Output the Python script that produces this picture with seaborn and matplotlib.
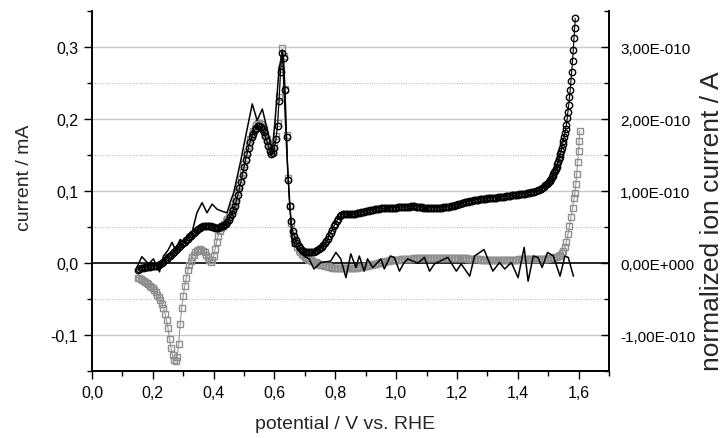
import numpy as np
import pandas as pd
import matplotlib
matplotlib.use("Agg")
import matplotlib.pyplot as plt
from matplotlib.ticker import MultipleLocator, FuncFormatter
import seaborn as sns

# ---------------- data ----------------
# The potential sweep is sampled on a regular 5 mV grid (0.150 ... 1.500 V),
# plus the densely sampled steep tail read point by point.
sweep_grid_a = np.round(np.arange(0.150, 1.5001, 0.005), 4)
sweep_grid_b = np.round(np.arange(0.150, 1.5351, 0.005), 4)

# black open circles: current, left axis (mA), one value per grid potential
current_a_grid = [
    -0.009, -0.008, -0.007, -0.0065, -0.006, -0.0055, -0.005, -0.005, -0.005, -0.0045,
    -0.004, -0.004, -0.004, -0.0035, -0.003, -0.0015, 0.000, 0.002, 0.004, 0.006,
    0.008, 0.010, 0.012, 0.014, 0.016, 0.018, 0.020, 0.022, 0.024, 0.026,
    0.028, 0.030, 0.032, 0.034, 0.036, 0.038, 0.040, 0.042, 0.044, 0.0455,
    0.047, 0.0485, 0.050, 0.051, 0.052, 0.052, 0.052, 0.0515, 0.051, 0.0505,
    0.050, 0.0495, 0.049, 0.0495, 0.050, 0.051, 0.052, 0.0535, 0.055, 0.057,
    0.060, 0.064, 0.068, 0.074, 0.080, 0.087, 0.095, 0.104, 0.113, 0.123,
    0.133, 0.143, 0.152, 0.160, 0.168, 0.175, 0.180, 0.185, 0.188, 0.190,
    0.190, 0.189, 0.186, 0.182, 0.176, 0.169, 0.162, 0.156, 0.152, 0.153,
    0.160, 0.172, 0.190, 0.225, 0.265, 0.292, 0.285, 0.240, 0.175, 0.115,
    0.080, 0.058, 0.045, 0.038, 0.032, 0.028, 0.024, 0.021, 0.019, 0.017,
    0.016, 0.015, 0.015, 0.015, 0.015, 0.0155, 0.016, 0.017, 0.018, 0.0195,
    0.021, 0.023, 0.025, 0.028, 0.031, 0.034, 0.038, 0.042, 0.046, 0.051,
    0.055, 0.059, 0.062, 0.065, 0.067, 0.068, 0.068, 0.068, 0.068, 0.068,
    0.068, 0.068, 0.068, 0.0685, 0.069, 0.0695, 0.070, 0.0705, 0.071, 0.0715,
    0.072, 0.0725, 0.073, 0.0735, 0.074, 0.0745, 0.075, 0.075, 0.075, 0.0755,
    0.076, 0.076, 0.076, 0.076, 0.076, 0.0765, 0.077, 0.077, 0.077, 0.077,
    0.077, 0.0775, 0.078, 0.078, 0.078, 0.078, 0.078, 0.078, 0.078, 0.0785,
    0.079, 0.079, 0.079, 0.0785, 0.078, 0.078, 0.078, 0.0775, 0.077, 0.077,
    0.077, 0.077, 0.077, 0.077, 0.077, 0.077, 0.077, 0.077, 0.077, 0.077,
    0.077, 0.0775, 0.078, 0.078, 0.078, 0.0785, 0.079, 0.0795, 0.080, 0.0805,
    0.081, 0.0815, 0.082, 0.083, 0.084, 0.0845, 0.085, 0.0855, 0.086, 0.0865,
    0.087, 0.0875, 0.088, 0.088, 0.088, 0.0885, 0.089, 0.089, 0.089, 0.0895,
    0.090, 0.090, 0.090, 0.0905, 0.091, 0.091, 0.091, 0.0915, 0.092, 0.092,
    0.092, 0.0925, 0.093, 0.093, 0.093, 0.0935, 0.094, 0.094, 0.094, 0.0945,
    0.095, 0.0955, 0.096, 0.096, 0.096, 0.0965, 0.097, 0.0975, 0.098, 0.0985,
    0.099, 0.0995, 0.100, 0.101, 0.102, 0.103, 0.104, 0.106, 0.108, 0.1095,
    0.111]
tail_potential_a = [1.5025, 1.505, 1.5075, 1.51, 1.5125, 1.515, 1.5175, 1.52, 1.5225, 1.525,
                    1.5275, 1.53, 1.5325, 1.535, 1.5375, 1.54, 1.5425, 1.545, 1.5475, 1.55,
                    1.5525, 1.555, 1.5575, 1.56, 1.5625, 1.565, 1.5675, 1.57, 1.5725, 1.575,
                    1.5775, 1.58, 1.5825, 1.585, 1.587, 1.589]
tail_current_a = [0.1125, 0.114, 0.1155, 0.117, 0.119, 0.121, 0.1235, 0.126, 0.1285, 0.131,
                  0.134, 0.137, 0.1405, 0.144, 0.1475, 0.151, 0.1555, 0.160, 0.165, 0.170,
                  0.1755, 0.181, 0.1865, 0.192, 0.201, 0.210, 0.220, 0.230, 0.241, 0.253,
                  0.266, 0.280, 0.296, 0.312, 0.326, 0.340]

# grey open squares: current, left axis (mA), one value per grid potential
current_b_grid = [
    -0.020, -0.021, -0.022, -0.0235, -0.025, -0.0265, -0.028, -0.0295, -0.031, -0.033,
    -0.035, -0.0375, -0.040, -0.0435, -0.047, -0.051, -0.056, -0.062, -0.070, -0.079,
    -0.090, -0.105, -0.118, -0.128, -0.134, -0.136, -0.130, -0.112, -0.085, -0.062,
    -0.045, -0.032, -0.020, -0.010, -0.002, 0.003, 0.008, 0.012, 0.015, 0.017,
    0.019, 0.0195, 0.019, 0.017, 0.015, 0.012, 0.008, 0.004, 0.002, 0.004,
    0.010, 0.020, 0.030, 0.038, 0.045, 0.049, 0.052, 0.055, 0.058, 0.061,
    0.064, 0.068, 0.072, 0.078, 0.084, 0.091, 0.099, 0.108, 0.117, 0.127,
    0.137, 0.146, 0.155, 0.164, 0.172, 0.178, 0.184, 0.188, 0.192, 0.194,
    0.194, 0.193, 0.190, 0.186, 0.180, 0.173, 0.165, 0.159, 0.155, 0.156,
    0.163, 0.176, 0.195, 0.230, 0.270, 0.298, 0.288, 0.242, 0.178, 0.118,
    0.080, 0.056, 0.042, 0.034, 0.028, 0.023, 0.019, 0.016, 0.013, 0.011,
    0.009, 0.0075, 0.006, 0.005, 0.004, 0.003, 0.002, 0.001, 0.000, -0.001,
    -0.002, -0.0025, -0.003, -0.0035, -0.004, -0.0045, -0.005, -0.0055, -0.006, -0.006,
    -0.006, -0.0065, -0.007, -0.007, -0.007, -0.007, -0.007, -0.007, -0.007, -0.007,
    -0.007, -0.0065, -0.006, -0.006, -0.006, -0.0055, -0.005, -0.005, -0.005, -0.0045,
    -0.004, -0.0035, -0.003, -0.0025, -0.002, -0.0015, -0.001, -0.0005, 0.000, 0.0005,
    0.001, 0.0015, 0.002, 0.0025, 0.003, 0.0035, 0.004, 0.004, 0.004, 0.0045,
    0.005, 0.005, 0.005, 0.0055, 0.006, 0.006, 0.006, 0.006, 0.006, 0.006,
    0.006, 0.0065, 0.007, 0.007, 0.007, 0.007, 0.007, 0.007, 0.007, 0.007,
    0.007, 0.007, 0.007, 0.007, 0.007, 0.007, 0.007, 0.007, 0.007, 0.007,
    0.007, 0.007, 0.007, 0.007, 0.007, 0.007, 0.007, 0.007, 0.007, 0.007,
    0.007, 0.007, 0.007, 0.007, 0.007, 0.007, 0.007, 0.0065, 0.006, 0.006,
    0.006, 0.006, 0.006, 0.006, 0.006, 0.0055, 0.005, 0.005, 0.005, 0.0045,
    0.004, 0.004, 0.004, 0.004, 0.004, 0.004, 0.004, 0.004, 0.004, 0.004,
    0.004, 0.0045, 0.005, 0.005, 0.005, 0.005, 0.005, 0.005, 0.005, 0.005,
    0.005, 0.0055, 0.006, 0.006, 0.006, 0.006, 0.006, 0.006, 0.006, 0.006,
    0.006, 0.006, 0.006, 0.006, 0.006, 0.006, 0.006, 0.006, 0.006, 0.006,
    0.007, 0.007, 0.007, 0.0075, 0.008, 0.0085, 0.009, 0.0105]
tail_potential_b = [1.54, 1.545, 1.55, 1.555, 1.56, 1.565, 1.57, 1.575, 1.58, 1.585,
                    1.588, 1.591, 1.594, 1.597, 1.600, 1.602, 1.604]
tail_current_b = [0.012, 0.014, 0.017, 0.022, 0.030, 0.040, 0.052, 0.064, 0.076, 0.090,
                  0.098, 0.110, 0.124, 0.140, 0.156, 0.170, 0.184]

# thin black line: normalized ion current, right axis (units of 1E-010 A)
potential_ion = [0.147, 0.164, 0.186, 0.202, 0.222, 0.235, 0.250, 0.263, 0.274, 0.290,
                 0.301, 0.315, 0.329, 0.345, 0.362, 0.378, 0.395, 0.411, 0.428, 0.444,
                 0.455, 0.466, 0.488, 0.510, 0.527, 0.543, 0.560, 0.576, 0.593, 0.604,
                 0.615, 0.626, 0.642, 0.659, 0.675, 0.697, 0.714, 0.730, 0.752, 0.770,
                 0.785, 0.802, 0.818, 0.835, 0.851, 0.868, 0.879, 0.895, 0.906, 0.923,
                 0.937, 0.950, 0.961, 0.981, 0.994, 1.011, 1.025, 1.038, 1.055, 1.071,
                 1.093, 1.110, 1.126, 1.145, 1.170, 1.198, 1.214, 1.242, 1.258, 1.289,
                 1.318, 1.340, 1.357, 1.379, 1.401, 1.421, 1.434, 1.451, 1.467, 1.480,
                 1.498, 1.517, 1.539, 1.555, 1.566, 1.583]
ion_current_e10 = [-0.06, 0.09, -0.01, 0.06, -0.12, 0.10, 0.18, 0.29, 0.19, 0.33,
                   0.29, 0.40, 0.43, 0.70, 0.84, 0.70, 0.82, 0.75, 0.72, 0.70,
                   0.85, 0.98, 1.40, 1.86, 2.21, 1.98, 2.14, 1.86, 1.54, 2.09,
                   2.69, 2.95, 1.40, 0.24, 0.22, 0.10, 0.06, -0.08, 0.01, 0.02,
                   0.03, 0.15, 0.06, -0.20, 0.13, -0.06, 0.10, -0.11, 0.06, -0.06,
                   0.00, 0.06, -0.08, 0.10, 0.08, -0.11, 0.00, 0.06, 0.03, 0.00,
                   0.08, -0.11, -0.01, 0.03, 0.08, -0.11, -0.01, -0.18, 0.10, 0.19,
                   -0.11, 0.01, -0.08, 0.01, -0.20, 0.22, -0.25, 0.10, 0.08, -0.06,
                   0.15, 0.10, -0.18, 0.10, 0.08, -0.18]

x_ticks = [0.0, 0.2, 0.4, 0.6, 0.8, 1.0, 1.2, 1.4, 1.6]
left_ticks = [-0.1, 0.0, 0.1, 0.2, 0.3]
right_ticks_e10 = [-1.0, 0.0, 1.0, 2.0, 3.0]

df_a = pd.DataFrame({"potential": np.concatenate([sweep_grid_a, tail_potential_a]),
                     "current": np.concatenate([current_a_grid, tail_current_a])})
df_b = pd.DataFrame({"potential": np.concatenate([sweep_grid_b, tail_potential_b]),
                     "current": np.concatenate([current_b_grid, tail_current_b])})
df_ion = pd.DataFrame({"potential": potential_ion,
                       "ion": np.array(ion_current_e10) * 1e-10})

# ---------------- style ----------------
sns.set_theme(style="white")
plt.rcParams["font.family"] = ["Liberation Sans", "DejaVu Sans"]

W, H = 727, 439
fig = plt.figure(figsize=(W / 100, H / 100), dpi=100)
ax = fig.add_axes([92 / W, (H - 372.3) / H, 517 / W, 360.3 / H])

ax.set_ylim(-0.15, 0.35)
ax.set_xlim(0.0, 1.7)
for v in [-0.1, 0.1, 0.2, 0.3]:
    ax.axhline(v, color="#c8c8c8", lw=1.0, zorder=0)
for v in [-0.05, 0.05, 0.15, 0.25]:
    ax.axhline(v, color="#b0b0b0", lw=0.7, ls=(0, (1, 1.5)), zorder=0)
ax.axhline(0.0, color="black", lw=1.2, zorder=1)

sns.lineplot(data=df_b, x="potential", y="current", ax=ax, sort=False,
             estimator=None, color="#9a9a9a", lw=0.8, marker="s",
             markersize=4.4, markerfacecolor="none", markeredgecolor="#8f8f8f",
             markeredgewidth=1.0, zorder=3)
sns.lineplot(data=df_a, x="potential", y="current", ax=ax, sort=False,
             estimator=None, color="black", lw=0.8, marker="o",
             markersize=4.6, markerfacecolor="none", markeredgecolor="black",
             markeredgewidth=1.0, zorder=4)

ax2 = ax.twinx()
ax2.set_ylim(-1.5e-10, 3.5e-10)
sns.lineplot(data=df_ion, x="potential", y="ion", ax=ax2, sort=False,
             estimator=None, color="black", lw=1.1, zorder=5)

for a in (ax, ax2):
    a.spines["top"].set_visible(False)
    for s in ("left", "right", "bottom"):
        a.spines[s].set_linewidth(1.2)
        a.spines[s].set_color("black")
    a.grid(False)

ax.set_xticks(x_ticks)
ax.xaxis.set_minor_locator(MultipleLocator(0.1))
ax.set_yticks(left_ticks)
ax.yaxis.set_minor_locator(MultipleLocator(0.05))
ax.xaxis.set_major_formatter(FuncFormatter(lambda v, p: f"{v:.1f}".replace(".", ",")))
ax.yaxis.set_major_formatter(FuncFormatter(
    lambda v, p: ("0,0" if abs(v) < 1e-9 else f"{v:.1f}".replace(".", ","))))

ax2.set_yticks([t * 1e-10 for t in right_ticks_e10])
ax2.yaxis.set_minor_locator(MultipleLocator(0.5e-10))


def right_fmt(v, p):
    t = v / 1e-10
    if abs(t) < 1e-9:
        return "0,00E+000"
    return f"{t:.2f}".replace(".", ",") + "E-010"


ax2.yaxis.set_major_formatter(FuncFormatter(right_fmt))

ax.tick_params(axis="both", which="major", direction="out", length=6, width=1,
               colors="black", labelsize=11.5, pad=4)
ax.tick_params(axis="both", which="minor", direction="out", length=3.5, width=1,
               colors="black")
ax.tick_params(axis="y", which="both", left=True, right=False)
ax.tick_params(axis="x", which="both", bottom=True, top=False)
ax2.tick_params(axis="y", which="major", direction="in", length=6, width=1,
                colors="black", labelsize=11, pad=8)
ax2.tick_params(axis="y", which="minor", direction="in", length=3.5, width=1,
                colors="black")

ax.set_xlabel("")
ax.set_ylabel("")
ax2.set_ylabel("")
fig.text(345 / W, 1 - 425 / H, "potential / V vs. RHE", fontsize=14,
         ha="center", va="center")
fig.text(25 / W, 1 - 178 / H, "current / mA", fontsize=14, rotation=90,
         ha="center", va="center")
fig.text(712 / W, 1 - 221 / H, "normalized ion current / A", fontsize=19,
         rotation=90, ha="center", va="center")

fig.savefig("out.png", dpi=100)
